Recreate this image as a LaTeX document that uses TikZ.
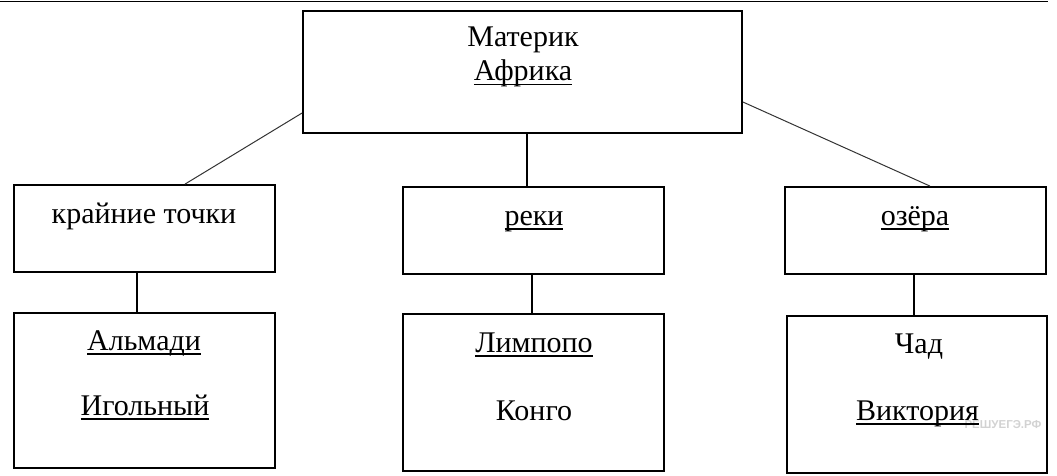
\documentclass[tikz,border=0pt]{standalone}
\usepackage{fontspec}
\setmainfont{Liberation Serif}
\setsansfont{Liberation Sans}

% underlined word, line just under the baseline
\newcommand\uword[1]{\setbox0\hbox{#1}\rlap{\rule[-0.15em]{\wd0}{0.05em}}\box0}

\begin{document}
\begin{tikzpicture}[x=1pt, y=-1pt,
    %Styles of boxes and lines
    box/.style={draw, line width=1.8pt, rectangle, inner sep=0pt},
    txt/.style={anchor=base, inner sep=0pt, font=\fontsize{30}{36}\selectfont},
    link/.style={line width=1.5pt},
    slant/.style={line width=1pt, color=black!80},
]
    \useasboundingbox (0,0) rectangle (1057,476);

    % Rule at the top
    \draw[line width=1.6pt] (0,1.5) -- (1048,1.5);

    % Boxes
    \node[box, minimum width=439pt, minimum height=122pt] (mat)  at (522.5,72)  {};
    \node[box, minimum width=261pt, minimum height=87pt]  (kr)   at (144.5,228.5) {};
    \node[box, minimum width=261pt, minimum height=87pt]  (rek)  at (533.5,230.5) {};
    \node[box, minimum width=261pt, minimum height=87pt]  (oz)   at (915.5,230.5) {};
    \node[box, minimum width=261pt, minimum height=155pt] (alm)  at (144.5,390.5) {};
    \node[box, minimum width=261pt, minimum height=157pt] (lim)  at (533.5,392.5) {};
    \node[box, minimum width=260pt, minimum height=157pt] (chad) at (917,394.5)   {};

    % Watermark (under the texts)
    \node[inner sep=0pt, text=gray!35, font=\sffamily\bfseries\fontsize{11.5}{12}\selectfont]
        (mark) at (1003,425) {РЕШУЕГЭ.РФ};

    % Texts
    \node[txt] (matA) at (523,47)   {Материк};
    \node[txt] (matB) at (523,81)   {\uword{Африка}};
    \node[txt] (krA)  at (144,223)  {крайние точки};
    \node[txt] (rekA) at (534,225)  {\uword{реки}};
    \node[txt] (ozA)  at (915,225)  {\uword{озёра}};
    \node[txt] (almA) at (144,350)  {\uword{Альмади}};
    \node[txt] (almB) at (145,415)  {\uword{Игольный}};
    \node[txt] (limA) at (534,352)  {\uword{Лимпопо}};
    \node[txt] (limB) at (534,420)  {Конго};
    \node[txt] (chA)  at (919,353)  {Чад};
    \node[txt] (chB)  at (917.5,420) {\uword{Виктория}};

    % Lines between boxes
    \draw[slant] ([yshift=-41pt]mat.west) -- ([xshift=40.5pt]kr.north);
    \draw[slant] ([yshift=-30pt]mat.east) -- ([xshift=14.5pt]oz.north);
    \draw[link]  ([xshift=4.5pt]mat.south) -- ([xshift=-6.5pt]rek.north);
    \draw[link]  ([xshift=-7.5pt]kr.south) -- ([xshift=-7.5pt]alm.north);
    \draw[link]  ([xshift=-1.5pt]rek.south) -- ([xshift=-1.5pt]lim.north);
    \draw[link]  ([xshift=-1.5pt]oz.south) -- ([xshift=-3pt]chad.north);

\end{tikzpicture}
\end{document}
